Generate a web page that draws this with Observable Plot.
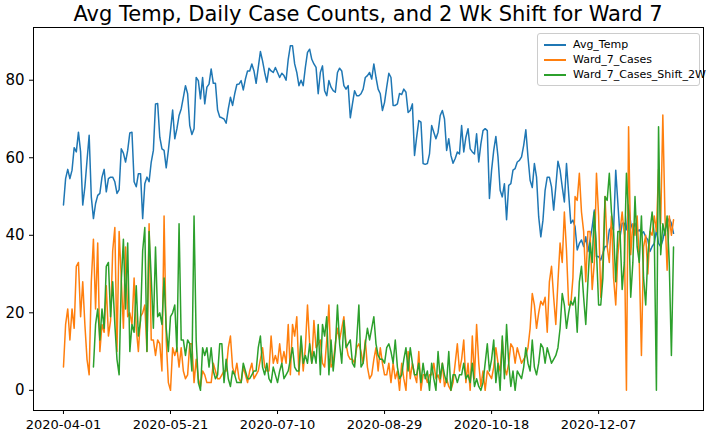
<!DOCTYPE html>
<html>
<head>
<meta charset="utf-8">
<script src="https://cdn.jsdelivr.net/npm/d3@7"></script>
<script src="https://cdn.jsdelivr.net/npm/@observablehq/plot@0.6"></script>
<style>
  body { margin: 0; background: #fff; font-family: "DejaVu Sans", sans-serif; }
  #wrap { position: relative; width: 710px; }
  #title { height: 27px; text-align: center; font-size: 21px; line-height: 28px; color: #000; padding-left: 26px; }
  #legend { position: absolute; left: 537px; top: 33px; width: 161px; padding: 3px 0 3px 0; white-space: nowrap;
    border: 1px solid #ccc; border-radius: 3px; background: rgba(255,255,255,0.85); font-size: 11px; }
  #legend div { height: 15px; line-height: 15px; padding-left: 6px; }
  #legend span { display: inline-block; width: 22px; height: 2px; vertical-align: middle; margin-right: 7px; }
</style>
</head>
<body>
<div id="wrap">
  <div id="title">Avg Temp, Daily Case Counts, and 2 Wk Shift for Ward 7</div>
  <div id="vis"></div>
  <div id="legend">
    <div><span style="background:#1f77b4"></span>Avg_Temp</div>
    <div><span style="background:#ff7f0e"></span>Ward_7_Cases</div>
    <div><span style="background:#2ca02c"></span>Ward_7_Cases_Shift_2W</div>
  </div>
</div>
<script>
const startDate = '2020-04-01'
const tickDates = ['2020-04-01', '2020-05-21', '2020-07-10', '2020-08-29', '2020-10-18', '2020-12-07']
const yTicks = [0, 20, 40, 60, 80]
const shiftDays = 14

const avgTemp = [
  47.8,54.6,57,54.6,56.8,62.6,61.5,66.6,61.5,47.8,52.5,59.3,65.8,49.9,44.3,48.2,50.3,50.8,55,57,
  51.2,54.6,55,55,53.8,50.8,51.8,62.3,61.2,58.9,61.9,66.4,66.6,53.8,52.5,55.9,55.9,44.3,53.3,55,
  53.8,58.9,61.9,73.9,74,65.3,62.3,61.9,57.4,61.9,67,72.3,64.9,67.5,70.9,72.6,75.6,78.6,76.5,68.3,
  66,67.5,80.7,79.9,75.2,80.7,73.9,78.2,79,82.9,79.2,79.2,72.3,70.5,70.3,70,68.9,72.6,75.6,73.5,
  76.5,78.9,79,79.9,77.5,80.3,82.4,82.4,84.2,82.4,79.2,83.3,87.4,85,82,79.5,83.1,82.4,
  82,83.3,82,80.7,81.8,81.2,80,85.4,88.9,88.9,84.2,82,78.6,80,78.6,83.3,87.2,88,85.4,84.2,
  83.3,76.5,82,83.7,77.3,76,79.9,78.2,77.3,76.9,82,83.1,82.4,78.6,77.7,78.6,70.3,73.9,77.3,76,
  76,76.5,77.7,80.7,81.2,82,80.3,84.2,80.7,77.7,76.5,72.2,74.3,78.2,81.8,80.7,73.5,73.5,73.9,76.6,
  76.3,77.7,76.9,71.7,72.2,73.9,60.6,65.3,69.6,69.2,58.5,58.3,58.5,61,68.3,66.6,64.9,66.6,70.9,72.2,
  70,61.9,64.9,60.6,58.6,59.8,61.5,61,68.3,61.5,65.3,67.5,62.3,61.5,61,66.2,58.9,
  63.6,67,67.5,67,49.5,56.8,61.9,65.5,60.2,51.6,49.9,53.3,44,52.9,53.3,56.8,57.2,58.9,59.3,60.2,
  63.2,67.2,60.2,54.2,52.3,58.5,55,44.8,39.6,43.9,51.6,55,55,52.5,46.5,52.5,59.1,56.8,52.5,48.6,
  58.5,50.8,43.1,43.9,42.2,36.2,37.9,38.8,37.1,39.6,35.8,38.8,42.2,46.5,34.5,34.5,33.6,35.4,37.1,37.1,
  41.4,42.2,41.4,56.8,48.2,39.6,43.1,43.1,41.4,47.8,43.1,41.4,43.1,40.9,41.4,40.5,40.9,39.6,38.8,35.8,
  37.1,37.9,41.4,37.9,37.1,38.8,41.4,43.1,44.3,43.1,40.5
]

const ward7Cases = [
  6,17,21,13,21,16,32,33,19,28,17,8,4,28,39,21,38,10,17,15,
  27,14,18,36,42,10,41,29,16,37,19,20,17,29,16,10,19,20,22,10,
  43,13,13,9,13,12,5,45,13,2,0,11,9,11,6,11,5,3,4,12,
  12,2,8,3,1,5,4,2,2,2,7,5,3,3,4,5,5,11,14,6,
  4,7,3,2,6,4,2,5,7,3,4,5,8,11,6,
  5,5,14,7,9,7,12,7,10,7,17,4,17,14,19,4,13,5,11,22,
  12,7,18,11,12,13,7,6,13,22,6,7,12,16,13,16,19,12,9,8,
  8,7,11,12,10,7,13,6,3,4,8,11,5,11,7,4,4,7,2,7,
  3,5,0,7,3,0,10,3,7,4,2,10,0,4,4,2,4,4,7,3,
  4,2,7,1,3,1,0,2,7,12,5,8,13,2,7,0,14,3,17,7,1,5,
  0,5,4,3,6,11,7,5,13,6,4,7,12,11,7,11,9,7,8,9,
  11,16,25,22,16,20,23,22,24,15,28,32,24,17,28,38,33,46,36,22,
  22,29,50,49,56,46,41,28,41,41,26,33,56,45,24,33,50,37,33,45,
  29,22,35,41,46,40,0,68,35,43,40,45,33,9,37,40,30,41,40,45,
  41,57,43,71,45,31,45,40,44,31,48
]

const day0 = new Date(startDate)
const dateAt = i => d3.utcDay.offset(day0, i)
const n = Math.min(avgTemp.length, ward7Cases.length)

const temp = d3.range(n).map(i => ({date: dateAt(i), v: avgTemp[i]}))
const cases = d3.range(n).map(i => ({date: dateAt(i), v: ward7Cases[i]}))
const shifted = d3.range(shiftDays, n).map(i => ({date: dateAt(i), v: ward7Cases[i - shiftDays]}))

let chart = Plot.plot({
  width: 710,
  height: 408,
  marginTop: 0,
  marginBottom: 25,
  marginLeft: 33,
  marginRight: 7,
  x: {
    type: 'utc',
    domain: [dateAt(-14), dateAt(299.6)],
    ticks: tickDates.map(d => new Date(d)),
    tickFormat: d3.utcFormat('%Y-%m-%d'),
    tickSize: 4,
    label: null
  },
  y: {
    domain: [-5.2, 93.6],
    ticks: yTicks,
    tickSize: 4,
    label: null
  },
  marks: [
    Plot.frame({stroke: '#000'}),
    Plot.lineY(temp, {x: 'date', y: 'v', stroke: '#1f77b4', strokeWidth: 1.5}),
    Plot.lineY(cases, {x: 'date', y: 'v', stroke: '#ff7f0e', strokeWidth: 1.5}),
    Plot.lineY(shifted, {x: 'date', y: 'v', stroke: '#2ca02c', strokeWidth: 1.5})
  ],
  style: {
    fontSize: 13,
    fontFamily: 'DejaVu Sans, sans-serif',
    color: '#000',
    background: '#fff'
  }
})
d3.select('#vis').append(() => chart)
d3.select(chart).selectAll('[aria-label="y-axis tick label"] text').style('font-size', '15px')
</script>
</body>
</html>
